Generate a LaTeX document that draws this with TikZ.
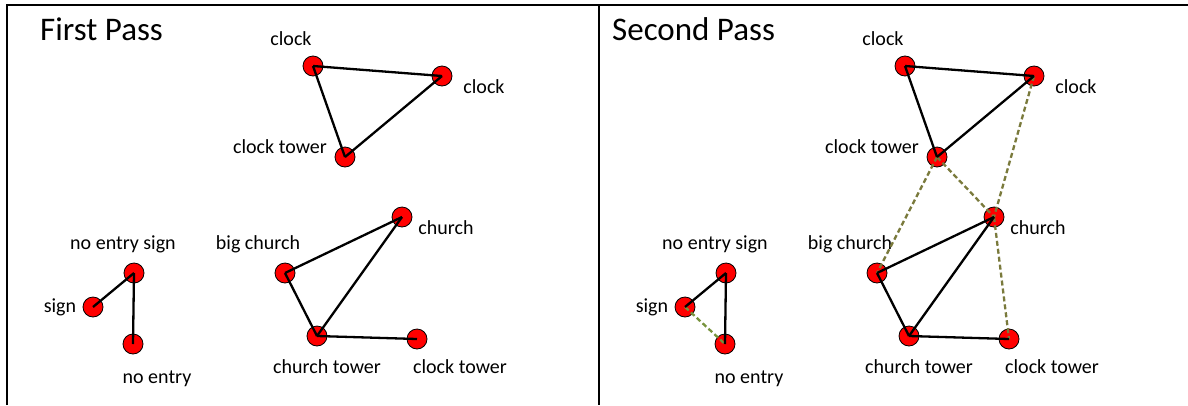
\documentclass[tikz,border=0pt]{standalone}
\usepackage{fontspec}
\setmainfont{Carlito}
\definecolor{olivedash}{HTML}{7A7A3C}
\definecolor{greendash}{HTML}{77933C}
\begin{document}
\begin{tikzpicture}[x=1pt,y=-1pt,
  vert/.style={circle,draw=black,line width=0.8pt,fill=red,minimum size=20pt,inner sep=0pt},
  lbl/.style={font=\fontsize{20}{24}\selectfont,anchor=base,inner sep=0pt},
  ttl/.style={font=\fontsize{33}{40}\selectfont,anchor=base west,inner sep=0pt},
  link/.style={line width=2.3pt,black},
  weak/.style={line width=2.3pt,draw=olivedash,dash pattern=on 5pt off 3pt},
  weakgreen/.style={line width=2.3pt,draw=greendash,dash pattern=on 5pt off 3pt},
]
\useasboundingbox (0,0) rectangle (1188,405);

% frame and divider
\draw[line width=1.4pt] (7,405) -- (7,5) -- (1188,5);
\draw[line width=1.4pt] (599,5) -- (599,405);

\node[ttl] (t1) at (40,40) {First Pass};
\node[ttl] (t2) at (612,40) {Second Pass};

% one graph panel: #1 name prefix, #2 horizontal offset
\newcommand\passgraph[2]{%
 \begin{scope}[xshift=#2pt]
  \node[vert] (#1ckA) at (313,66) {};
  \node[vert] (#1ckB) at (442,76) {};
  \node[vert] (#1ckT) at (345,157) {};
  \node[vert] (#1ch)  at (402,217) {};
  \node[vert] (#1bch) at (285,273) {};
  \node[vert] (#1cht) at (317,336) {};
  \node[vert] (#1ckU) at (417,339) {};
  \node[vert] (#1nes) at (134,273) {};
  \node[vert] (#1sg)  at (93,307) {};
  \node[vert] (#1ne)  at (133,344) {};
  \node[lbl] (#1lckA) at (291,45) {clock};
  \node[lbl] (#1lckB) at (484,93) {clock};
  \node[lbl] (#1lckT) at (280,153) {clock tower};
  \node[lbl] (#1lch)  at (446,234) {church};
  \node[lbl] (#1lbch) at (258,249) {big church};
  \node[lbl] (#1lcht) at (327,373) {church tower};
  \node[lbl] (#1lckU) at (460,373) {clock tower};
  \node[lbl] (#1lnes) at (123,249) {no entry sign};
  \node[lbl] (#1lsg)  at (60,312) {sign};
  \node[lbl] (#1lne)  at (157,383) {no entry};
 \end{scope}}

\passgraph{L}{0}
\passgraph{R}{592}

% second pass: extra weak links
\draw[weak] (RckB.center) -- (Rch.center);
\draw[weak] (RckT.center) -- (Rbch.center);
\draw[weak] (RckT.center) -- (Rch.center);
\draw[weak] (Rch.center) -- (RckU.center);
\draw[weakgreen] (Rsg.center) -- (Rne.center);

% strong links in both passes
\foreach \p in {L,R}{
  \draw[link] (\p ckA.center) -- (\p ckB.center);
  \draw[link] (\p ckA.center) -- (\p ckT.center);
  \draw[link] (\p ckT.center) -- (\p ckB.center);
  \draw[link] (\p bch.center) -- (\p ch.center);
  \draw[link] (\p ch.center) -- (\p cht.center);
  \draw[link] (\p bch.center) -- (\p cht.center);
  \draw[link] (\p cht.center) -- (\p ckU.center);
  \draw[link] (\p sg.center) -- (\p nes.center);
  \draw[link] (\p nes.center) -- (\p ne.center);
}
\end{tikzpicture}
\end{document}
